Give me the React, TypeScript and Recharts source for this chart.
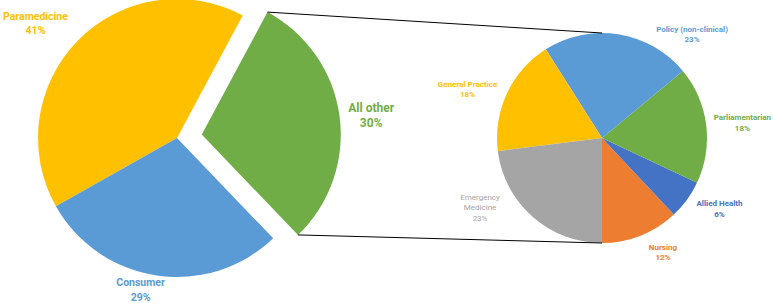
import { PieChart, Pie, Cell } from 'recharts';

// main pie
const mainNames = ['Paramedicine', 'Consumer', 'All other'];
const mainValues = [41, 29, 30];

// breakdown of "All other"
const subNames = ['Nursing', 'Allied Health', 'Parliamentarian', 'Policy (non-clinical)', 'General Practice', 'Emergency Medicine'];
const subValues = [12, 6, 18, 23, 18, 23];

const colors: Record<string, string> = {
  Paramedicine: '#FFC000',
  Consumer: '#5B9BD5',
  'All other': '#70AD47',
  Nursing: '#ED7D31',
  'Allied Health': '#4472C4',
  Parliamentarian: '#70AD47',
  'Policy (non-clinical)': '#5B9BD5',
  'General Practice': '#FFC000',
  'Emergency Medicine': '#A5A5A5',
};

const W = 773;
const H = 303;
const MAIN = { cx: 177, cy: 138, r: 139, start: 61.8 };
const SUB = { cx: 602, cy: 138, r: 105, start: 270 };
const EXPLODE = 25;
const FONT = 'Roboto, "Liberation Sans", sans-serif';

// label placement: angle (deg) and distance as a multiple of the radius
const labelSpots: Record<string, { a: number; k: number }> = {
  Paramedicine: { a: 141.0, k: 1.31 },
  Consumer: { a: 256.5, k: 1.122 },
  'All other': { a: 6.6, k: 1.227 },
  'Policy (non-clinical)': { a: 49.1, k: 1.31 },
  'General Practice': { a: 160.0, k: 1.363 },
  Parliamentarian: { a: 6.25, k: 1.345 },
  'Allied Health': { a: 328.9, k: 1.307 },
  Nursing: { a: 298.15, k: 1.231 },
  'Emergency Medicine': { a: 209.7, k: 1.337 },
};
const labelLines: Record<string, string[]> = {
  'Emergency Medicine': ['Emergency', 'Medicine'],
};

const RAD = Math.PI / 180;
const polar = (cx: number, cy: number, r: number, a: number) => ({
  x: cx + r * Math.cos(a * RAD),
  y: cy - r * Math.sin(a * RAD),
});

const mainData = mainNames.map((name, i) => ({ name, value: mainValues[i] }));
const subData = subNames.map((name, i) => ({ name, value: subValues[i] }));

const total = mainValues.reduce((s, v) => s + v, 0);
const otherStart = MAIN.start + ((mainValues[0] + mainValues[1]) / total) * 360;
const otherEnd = MAIN.start + 360;
const otherMid = (otherStart + otherEnd) / 2;
const ex = polar(MAIN.cx, MAIN.cy, EXPLODE, otherMid);

const makeLabel =
  (names: string[], values: number[], size: number, lineH: number, only?: number[]) =>
  (props: any) => {
    const i = props.index;
    if (only && !only.includes(i)) return null;
    const name = names[i];
    const spot = labelSpots[name];
    const p = polar(props.cx, props.cy, props.outerRadius * spot.k, spot.a);
    const lines = [...(labelLines[name] || [name]), `${values[i]}%`];
    const y0 = p.y - ((lines.length - 1) * lineH) / 2 + size * 0.35;
    return (
      <text
        x={p.x}
        y={y0}
        textAnchor="middle"
        fill={colors[name]}
        fontSize={size}
        fontFamily={FONT}
        fontWeight={name === 'Emergency Medicine' ? 400 : 700}
      >
        {lines.map((l, j) => (
          <tspan key={j} x={p.x} y={y0 + j * lineH}>
            {l}
          </tspan>
        ))}
      </text>
    );
  };

export default function App() {
  const topA = polar(ex.x, ex.y, MAIN.r, otherEnd);
  const botA = polar(ex.x, ex.y, MAIN.r, otherStart);
  const topB = polar(SUB.cx, SUB.cy, SUB.r, 90);
  const botB = polar(SUB.cx, SUB.cy, SUB.r, 270);
  return (
    <div style={{ position: 'relative', width: W, height: H, background: '#fff' }}>
      <style>{'body { margin: 0; }'}</style>
      <PieChart width={W} height={H} margin={{ top: 0, right: 0, bottom: 0, left: 0 }}>
        {/* main pie without the exploded slice */}
        <Pie
          data={mainData}
          dataKey="value"
          nameKey="name"
          cx={MAIN.cx}
          cy={MAIN.cy}
          outerRadius={MAIN.r}
          startAngle={MAIN.start}
          endAngle={MAIN.start + 360}
          stroke="none"
          labelLine={false}
          label={makeLabel(mainNames, mainValues, 10.5, 14.5, [0, 1])}
          isAnimationActive={false}
        >
          {mainData.map((d, i) => (
            <Cell key={i} fill={i === 2 ? 'transparent' : colors[d.name]} />
          ))}
        </Pie>
        {/* exploded "All other" slice */}
        <Pie
          data={mainData}
          dataKey="value"
          nameKey="name"
          cx={ex.x}
          cy={ex.y}
          outerRadius={MAIN.r}
          startAngle={MAIN.start}
          endAngle={MAIN.start + 360}
          stroke="none"
          labelLine={false}
          label={makeLabel(mainNames, mainValues, 12, 15, [2])}
          isAnimationActive={false}
        >
          {mainData.map((d, i) => (
            <Cell key={i} fill={i === 2 ? colors[d.name] : 'transparent'} />
          ))}
        </Pie>
        <Pie
          data={subData}
          dataKey="value"
          nameKey="name"
          cx={SUB.cx}
          cy={SUB.cy}
          outerRadius={SUB.r}
          startAngle={SUB.start}
          endAngle={SUB.start + 360}
          stroke="none"
          labelLine={false}
          label={makeLabel(subNames, subValues, 8, 10.5)}
          isAnimationActive={false}
        >
          {subData.map((d, i) => (
            <Cell key={i} fill={colors[d.name]} />
          ))}
        </Pie>
      </PieChart>
      <svg width={W} height={H} style={{ position: 'absolute', left: 0, top: 0, pointerEvents: 'none' }}>
        <line x1={topA.x} y1={topA.y} x2={topB.x} y2={topB.y} stroke="#000" strokeWidth={1} />
        <line x1={botA.x} y1={botA.y} x2={botB.x} y2={botB.y} stroke="#000" strokeWidth={1} />
      </svg>
    </div>
  );
}
